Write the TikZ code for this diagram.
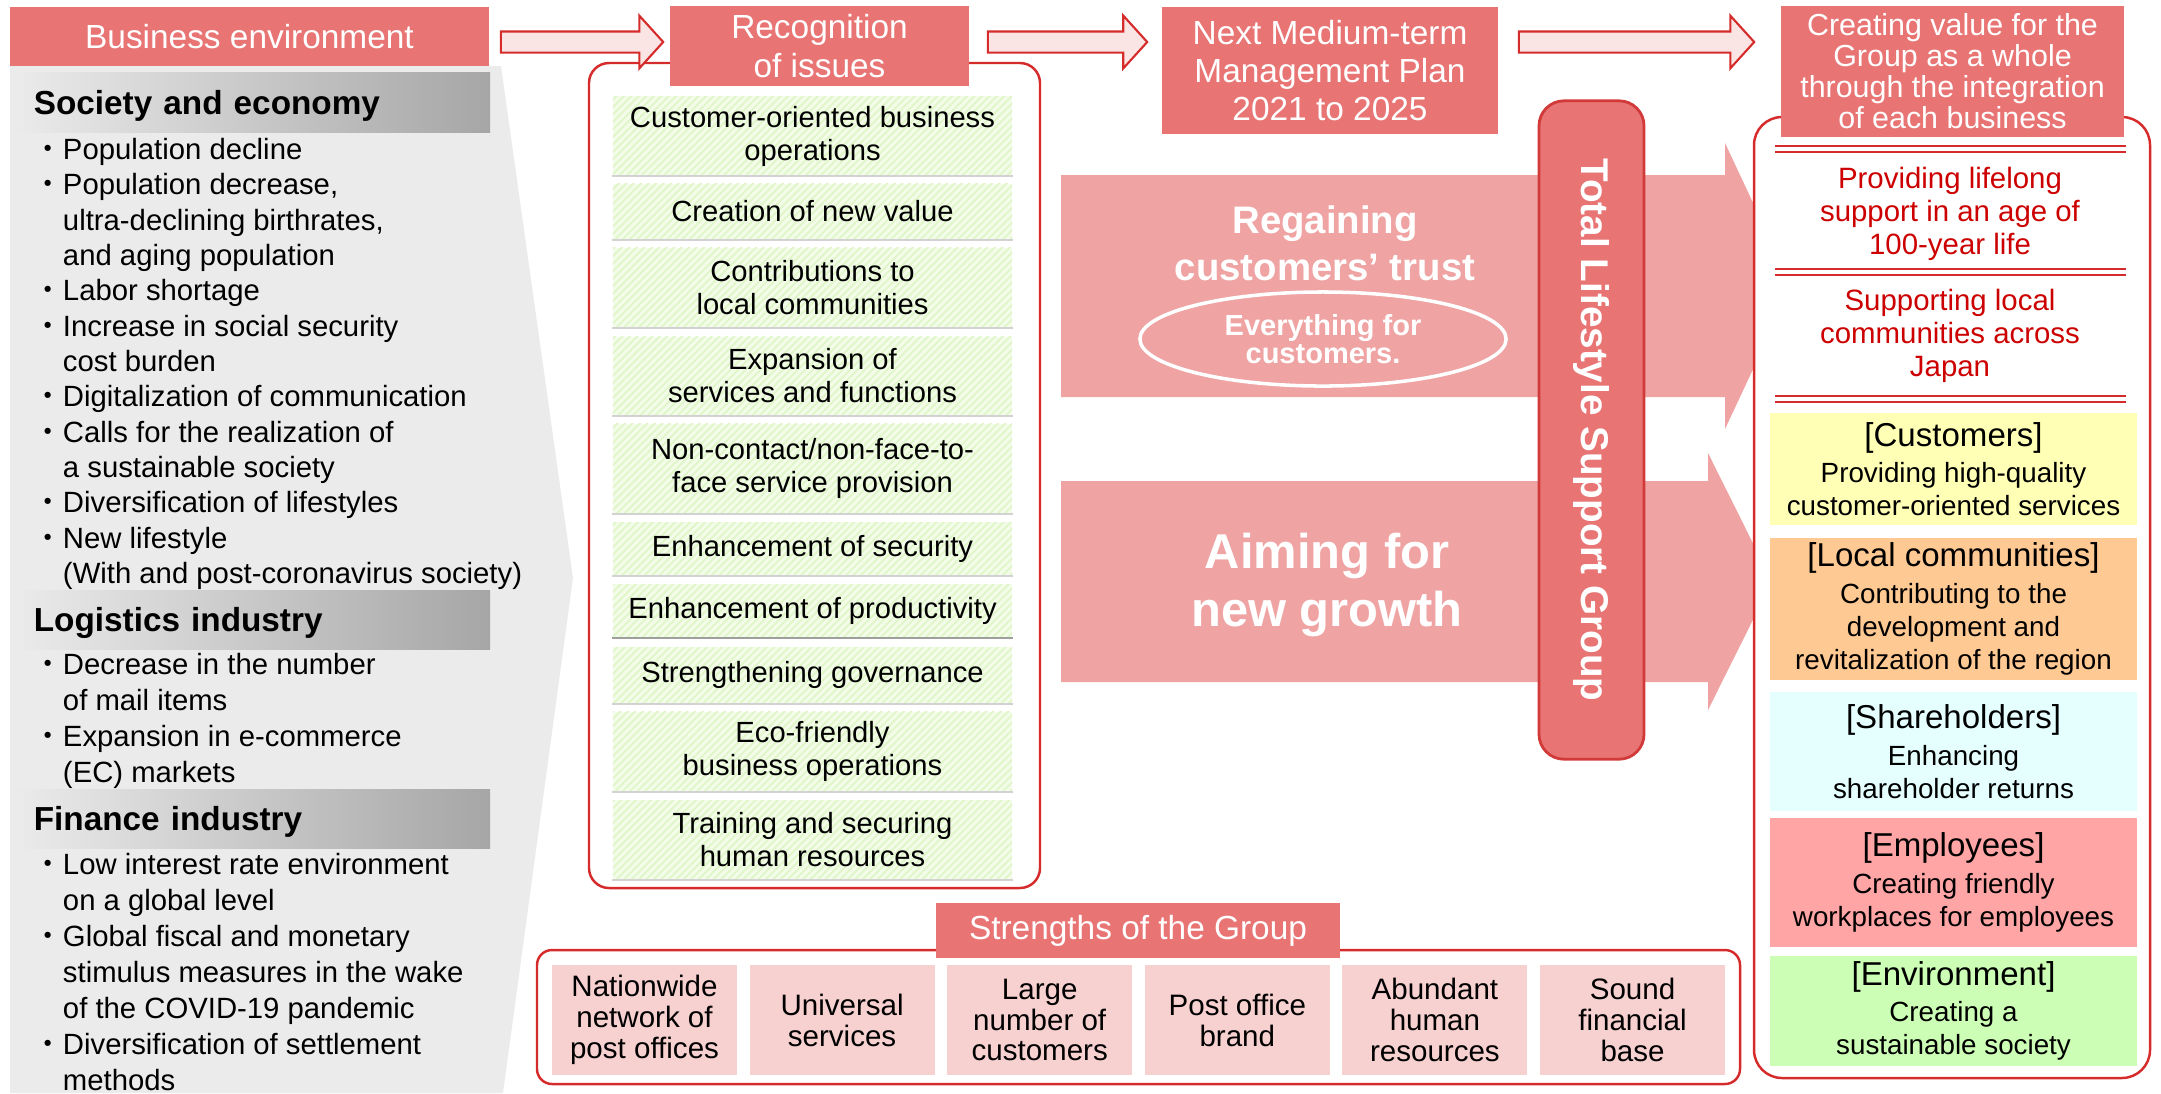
\documentclass[tikz,border=0pt]{standalone}
\usepackage{fontspec}
\setmainfont{Liberation Sans}
\newfontfamily\cjk{Noto Sans CJK JP}
\usepackage{tikz}
\usetikzlibrary{calc,shapes.geometric,patterns.meta}

\definecolor{headred}{HTML}{E87474}
\definecolor{lined}{HTML}{D62B2B}
\definecolor{barred}{HTML}{D23A3A}
\definecolor{bandpink}{HTML}{EFA3A3}
\definecolor{arrowfill}{HTML}{FBE4E4}
\definecolor{panelgray}{HTML}{EBEBEB}
\definecolor{bardark}{HTML}{A6A6A6}
\definecolor{issuegreen}{HTML}{F3FCE8}
\definecolor{hatchgreen}{HTML}{DFF6C6}
\definecolor{valred}{HTML}{CC0000}
\definecolor{custyellow}{HTML}{FFFFB5}
\definecolor{commorange}{HTML}{FFC993}
\definecolor{sharecyan}{HTML}{E5FFFF}
\definecolor{emppink}{HTML}{FFA5A5}
\definecolor{envgreen}{HTML}{CCFFB5}
\definecolor{strengthpink}{HTML}{F7D0D0}

\newcommand\fs[2]{\fontsize{#1}{#2}\selectfont}
\newcommand\itm{{\cjk ・}}
\newcommand\cont{\hspace*{1em}}
\newcommand\flowarrow[2]{%
  \draw[arrowline] let \p1=(#1), \p2=(#2) in
    ({\x1},{\y1+3pt}) -- ({\x2-6.8pt},{\y1+3pt}) -- ({\x2-6.8pt},{\y1+7.5pt})
    -- ({\x2},{\y1}) -- ({\x2-6.8pt},{\y1-7.5pt}) -- ({\x2-6.8pt},{\y1-3pt})
    -- ({\x1},{\y1-3pt}) -- cycle;}

\begin{document}
\begin{tikzpicture}[x=0.01cm,y=-0.01cm,
  hdrbox/.style={fill=headred,text=white,align=center,inner sep=0pt,font=\fs{9.5}{11.1}},
  secbar/.style={left color=panelgray,right color=bardark,minimum width=4.77cm,minimum height=0.59cm,
    text width=4.35cm,align=left,inner xsep=0.21cm,inner ysep=0pt,text height=6.8pt,text depth=0pt,
    font=\bfseries\fs{9.47}{11}},
  listline/.style={anchor=base west,inner sep=0pt,font=\fs{8.33}{10}},
  issuebox/.style={preaction={fill=issuegreen},pattern={Lines[angle=45,distance=1.5pt,line width=0.5pt]},
    pattern color=hatchgreen,minimum width=3.99cm,inner sep=0pt,align=center,font=\fs{8.3}{9.4}},
  redframe/.style={draw=lined,line width=0.7pt},
  arrowline/.style={draw=lined,fill=arrowfill,line width=0.6pt},
  dblline/.style={draw=lined,double=white,double distance=0.9pt,line width=0.7pt},
  bandtext/.style={text=white,align=center,inner sep=0pt},
  lifebar/.style={fill=headred,draw=barred,line width=0.8pt,rounded corners=0.25cm,text=white,
    inner sep=0pt,font=\bfseries\fs{11}{13}},
  valtext/.style={text=valred,align=center,inner sep=0pt,font=\fs{8.36}{9.4}},
  stakebox/.style={minimum width=3.67cm,inner sep=0pt,align=center,font=\fs{7.9}{9.4}},
  strbox/.style={fill=strengthpink,minimum width=1.85cm,minimum height=1.10cm,inner sep=0pt,
    align=center,font=\fs{8.4}{8.8}}]

\useasboundingbox (0,0) rectangle (2161,1093);
\coordinate (arrowrow) at (0,42);

\fill[panelgray] (10,66) -- (501,66) -- (573,578) -- (503,1093) -- (10,1093) -- cycle;
\node[hdrbox,minimum width=4.79cm,minimum height=0.59cm,text height=6.8pt,text depth=0pt] (envhead) at (249.5,36.5) {Business environment};
\node[secbar] (socbar) at (251.5,102.5) {Society and economy};
\node[secbar] (logbar) at (251.5,620) {Logistics industry};
\node[secbar] (finbar) at (251.5,819) {Finance industry};

\foreach \t [count=\i from 0] in {{\itm Population decline},{\itm Population decrease,},
  {\cont ultra-declining birthrates,},{\cont and aging population},{\itm Labor shortage},
  {\itm Increase in social security},{\cont cost burden},{\itm Digitalization of communication},
  {\itm Calls for the realization of},{\cont a sustainable society},{\itm Diversification of lifestyles},
  {\itm New lifestyle},{\cont (With and post-coronavirus society)}}
  \node[listline] (soc\i) at (33,{159.5+35.33*\i}) {\t};
\foreach \t [count=\i from 0] in {{\itm Decrease in the number},{\cont of mail items},
  {\itm Expansion in e-commerce},{\cont (EC) markets}}
  \node[listline] (log\i) at (33,{674.5+36*\i}) {\t};
\foreach \t [count=\i from 0] in {{\itm Low interest rate environment},{\cont on a global level},
  {\itm Global fiscal and monetary},{\cont stimulus measures in the wake},{\cont of the COVID-19 pandemic},
  {\itm Diversification of settlement},{\cont methods}}
  \node[listline] (fin\i) at (33,{874.5+36*\i}) {\t};

\draw[redframe,fill=white,rounded corners=0.2cm] (589,63) rectangle (1040,888);
\foreach \yc/\h/\t [count=\i] in {
  136/0.79/{Customer-oriented business\\operations},
  211.5/0.55/{Creation of new value},
  287.5/0.79/{Contributions to\\local communities},
  376/0.78/{Expansion of\\services and functions},
  468.5/0.89/{Non-contact/non-face-to-\\face service provision},
  548.5/0.53/{Enhancement of security},
  610.5/0.53/{Enhancement of productivity},
  675/0.56/{Strengthening governance},
  751.5/0.79/{Eco-friendly\\business operations},
  839.5/0.79/{Training and securing\\human resources}}
  \node[issuebox,minimum height=\h cm] (iss\i) at (812.5,\yc) {\t};
\foreach \i in {1,...,10}
  \draw[gray!35,line width=0.6pt] (iss\i.south west) -- (iss\i.south east);
\draw[gray!75,line width=0.6pt] (iss7.south west) -- (iss7.south east);
\node[hdrbox,minimum width=2.99cm,minimum height=0.80cm] (recog) at (819.5,46) {Recognition\\of issues};

\node[hdrbox,minimum width=3.36cm,minimum height=1.27cm,font=\fs{9.5}{10.8}] (plan) at (1330,70.5) {Next Medium-term\\Management Plan\\2021 to 2025};

\fill[bandpink] (1061,175) -- (1725,175) -- (1725,143) -- (1792,286) -- (1725,429) -- (1725,397) -- (1061,397) -- cycle;
\fill[bandpink] (1061,481) -- (1708,481) -- (1708,453) -- (1772,581.5) -- (1708,710) -- (1708,682) -- (1061,682) -- cycle;
\node[bandtext,font=\bfseries\fs{10.9}{13.4}] (trust) at (1325,243) {Regaining\\customers’ trust};
\node[ellipse,draw=white,line width=1pt,minimum width=3.66cm,minimum height=0.94cm,inner sep=0pt,
  text=white,align=center,font=\bfseries\fs{8.25}{8}] (ever) at (1323,339) {Everything for\\customers.};
\node[bandtext,font=\bfseries\fs{13.9}{16.5}] (growth) at (1327,585) {Aiming for\\new growth};
\node[lifebar,minimum width=6.58cm,minimum height=1.05cm,rotate=-90] (tlsg) at (1591.5,430) {Total Lifestyle Support Group};

\draw[redframe,fill=white,rounded corners=0.28cm] (1754,117) rectangle (2150,1078);
\node[hdrbox,minimum width=3.43cm,minimum height=1.31cm,font=\fs{8.65}{8.8}] (valhead) at (1952.5,71.5) {Creating value for the\\Group as a whole\\through the integration\\of each business};
\foreach \y in {149,272,399}
  \draw[dblline] (1775,\y) -- (2126,\y);
\node[valtext] (life) at (1950,214) {Providing lifelong\\support in an age of\\100-year life};
\node[valtext] (local) at (1950,336) {Supporting local\\communities across\\Japan};
\foreach \c/\yc/\h/\hd/\sb [count=\i] in {
  custyellow/469/1.12/Customers/{Providing high-quality\\customer-oriented services},
  commorange/609/1.42/Local communities/{Contributing to the\\development and\\revitalization of the region},
  sharecyan/751.5/1.18/Shareholders/{Enhancing\\shareholder returns},
  emppink/882.5/1.29/Employees/{Creating friendly\\workplaces for employees},
  envgreen/1011/1.10/Environment/{Creating a\\sustainable society}}
  \node[stakebox,fill=\c,minimum height=\h cm] (stake\i) at (1953.5,\yc) {{\fs{9.4}{11}[\hd]}\\[1pt]\sb};

\draw[redframe,fill=white,rounded corners=0.15cm] (537,950) rectangle (1740,1084);
\node[hdrbox,minimum width=4.04cm,minimum height=0.55cm] (strhead) at (1138,930.5) {Strengths of the Group};
\foreach \t [count=\i from 0] in {{Nationwide\\network of\\post offices},{Universal\\services},
  {Large\\number of\\customers},{Post office\\brand},{Abundant\\human\\resources},{Sound\\financial\\base}}
  \node[strbox] (str\i) at ({644.5+197.6*\i},1020) {\t};

\flowarrow{$(envhead.east |- arrowrow)+(11,0)$}{$(recog.west |- arrowrow)+(-6,0)$}
\flowarrow{$(recog.east |- arrowrow)+(18,0)$}{$(plan.west |- arrowrow)+(-14,0)$}
\flowarrow{$(plan.east |- arrowrow)+(20,0)$}{$(valhead.west |- arrowrow)+(-26,0)$}

\end{tikzpicture}
\end{document}
